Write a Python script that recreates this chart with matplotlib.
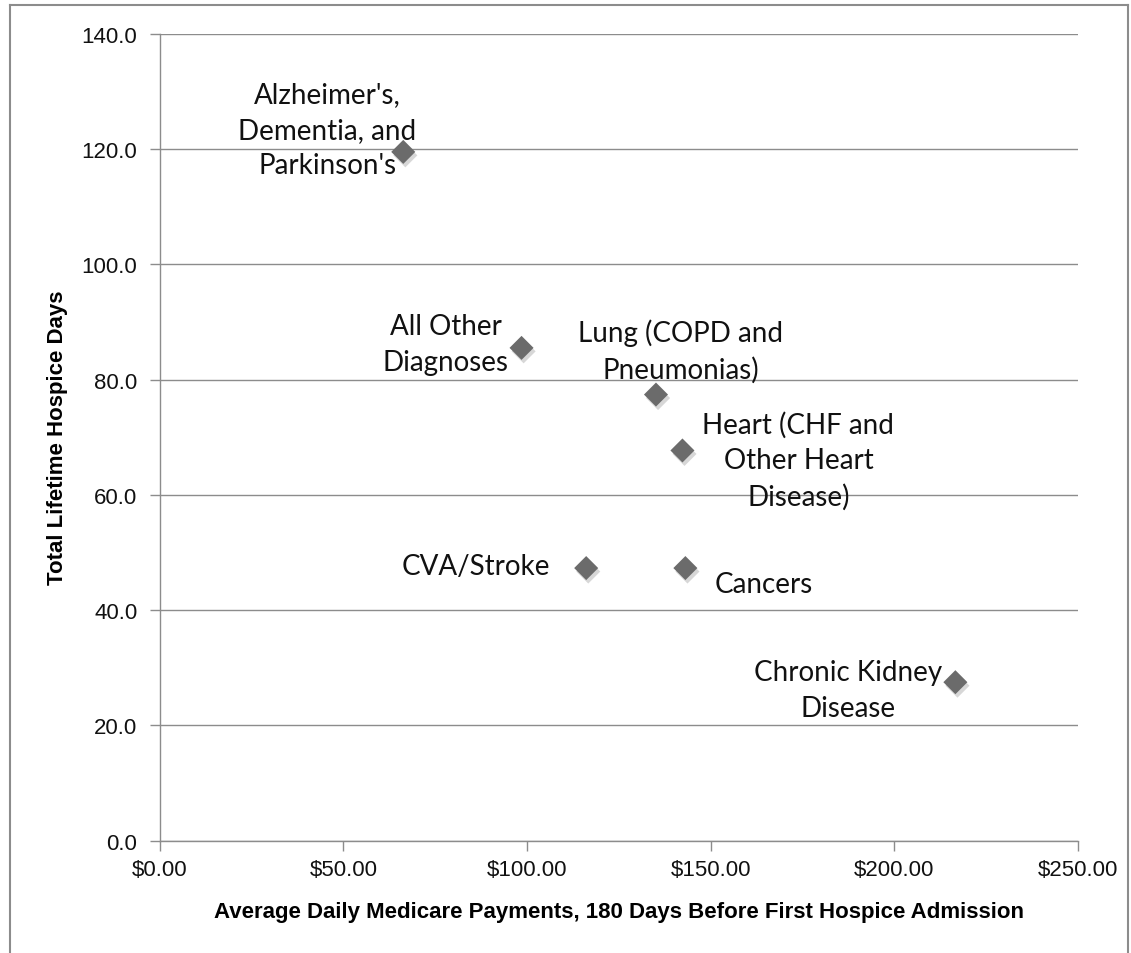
import matplotlib
matplotlib.use("Agg")
import matplotlib.pyplot as plt
import matplotlib.patheffects as pe
from matplotlib.lines import Line2D
from matplotlib.ticker import FuncFormatter, MultipleLocator

# dados
diagnosticos = ["Alzheimer's,\nDementia, and\nParkinson's",
                "All Other\nDiagnoses",
                "Lung (COPD and\nPneumonias)",
                "Heart (CHF and\nOther Heart\nDisease)",
                "CVA/Stroke",
                "Cancers",
                "Chronic Kidney\nDisease"]
pagamento_diario = [66.3, 98.5, 135.1, 142.3, 116.1, 143.1, 216.6]
dias_hospice = [119.5, 85.5, 77.4, 67.7, 47.3, 47.3, 27.5]

# deslocamento dos rotulos (pixels) em relacao ao ponto
offsets = [(-76, 22), (-76, 4), (25, 44), (116, -10), (-110, 2), (78, -16), (-107, -8)]

fonte_eixo = ["Liberation Sans Narrow", "Liberation Sans", "DejaVu Sans"]
fonte_rotulo = ["Lato", "DejaVu Sans"]

fig = plt.figure(figsize=(11.31, 9.54), dpi=100)
ax = fig.add_axes([0.1412, 0.1177, 0.8120, 0.8459])

ax.scatter(pagamento_diario, dias_hospice, marker="D", s=150, color="#6b6b6b",
           zorder=3, linewidths=0,
           path_effects=[pe.SimplePatchShadow(offset=(1.5, -2.5), shadow_rgbFace="#a8a8a8", alpha=0.45),
                         pe.Normal()])

for nome, x, y, (dx, dy) in zip(diagnosticos, pagamento_diario, dias_hospice, offsets):
    ax.annotate(nome, (x, y), xytext=(dx, dy), textcoords="offset pixels",
                ha="center", va="center", fontsize=20, family=fonte_rotulo,
                linespacing=1.45, color="#111111", zorder=4)

ax.set_xlim(0, 250)
ax.set_ylim(0, 140)
ax.xaxis.set_major_locator(MultipleLocator(50))
ax.yaxis.set_major_locator(MultipleLocator(20))
ax.xaxis.set_major_formatter(FuncFormatter(lambda v, p: f"${v:.2f}"))
ax.yaxis.set_major_formatter(FuncFormatter(lambda v, p: f"{v:.1f}"))

ax.grid(axis="y", color="#8c8c8c", linewidth=1.0)
ax.set_axisbelow(True)
for lado in ["top", "right"]:
    ax.spines[lado].set_visible(False)
for lado in ["left", "bottom"]:
    ax.spines[lado].set_color("#8c8c8c")
    ax.spines[lado].set_linewidth(1.0)

ax.tick_params(axis="both", direction="out", length=7, width=1.0, color="#8c8c8c",
               labelsize=16, labelcolor="#111111")
ax.tick_params(axis="y", pad=9)
ax.tick_params(axis="x", pad=6)
for lbl in ax.get_xticklabels() + ax.get_yticklabels():
    lbl.set_family(fonte_eixo)

ax.set_xlabel("Average Daily Medicare Payments, 180 Days Before First Hospice Admission",
              fontsize=16, fontweight="bold", family=fonte_eixo, labelpad=15)
ax.set_ylabel("Total Lifetime Hospice Days", fontsize=16, fontweight="bold",
              family=fonte_eixo, labelpad=10)

# moldura cinza em volta da figura
W, H = 1131, 954
for xs, ys in [([10 / W, 10 / W], [0, 1 - 6 / H]),
               ([10 / W, 1128 / W], [1 - 6 / H, 1 - 6 / H]),
               ([1128 / W, 1128 / W], [0, 1 - 6 / H])]:
    fig.add_artist(Line2D(xs, ys, color="#8c8c8c", linewidth=1.5))

fig.savefig("out.png", dpi=100)
plt.close(fig)
